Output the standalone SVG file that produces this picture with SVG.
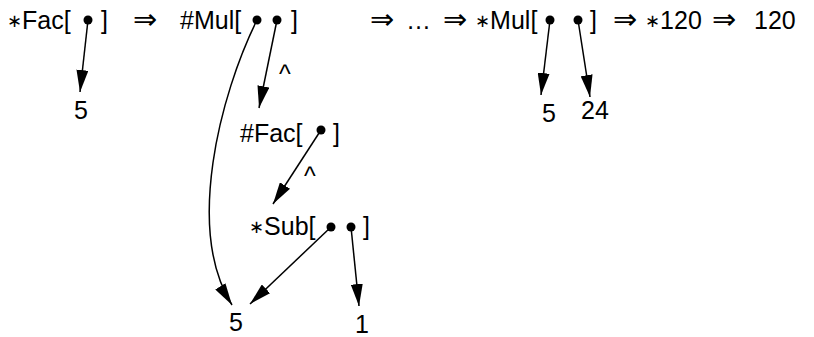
<svg xmlns="http://www.w3.org/2000/svg" width="814" height="337" viewBox="0 0 814 337">
<style>
text{font-family:"Liberation Sans","DejaVu Sans",sans-serif;font-size:25px;fill:#000}
tspan.s{font-family:"DejaVu Sans","Liberation Sans",sans-serif;font-size:18px}
text.a{font-family:"DejaVu Sans","Liberation Sans",sans-serif;font-size:29px}
.c{stroke:#000;stroke-width:1.5;fill:none;marker-end:url(#ah)}
.d{fill:#000}
</style>
<defs>
<marker id="ah" viewBox="0 0 22 12" refX="22" refY="6" markerWidth="22" markerHeight="12" markerUnits="userSpaceOnUse" orient="auto">
<path d="M0,0 L22,6 L0,12 z" fill="#000"/>
</marker>
</defs>
<rect width="814" height="337" fill="#fff"/>
<g id="fac1"><text x="7" y="29"><tspan class="s" dy="-2">∗</tspan><tspan dy="2">Fac[</tspan></text><text x="101" y="29">]</text><circle class="d" cx="88" cy="20" r="4.5"/></g>
<g id="imp1"><text class="a" x="133" y="29">⇒</text></g>
<g id="mul1"><text x="180" y="29">#Mul[</text><text x="291" y="29">]</text><circle class="d" cx="257" cy="20" r="4.5"/><circle class="d" cx="277" cy="20" r="4.5"/></g>
<g id="imp2"><text class="a" x="370" y="29">⇒</text></g>
<g id="ellipsis"><text x="406" y="29">…</text></g>
<g id="imp3"><text class="a" x="443" y="29">⇒</text></g>
<g id="mul2"><text x="475" y="29"><tspan class="s" dy="-2">∗</tspan><tspan dy="2">Mul[</tspan></text><text x="590" y="29">]</text><circle class="d" cx="550" cy="20" r="4.5"/><circle class="d" cx="578" cy="20" r="4.5"/></g>
<g id="imp4"><text class="a" x="613" y="29">⇒</text></g>
<g id="v120a"><text x="645" y="29"><tspan class="s" dy="-2">∗</tspan><tspan dy="2">120</tspan></text></g>
<g id="imp5"><text class="a" x="712" y="29">⇒</text></g>
<g id="v120b"><text x="754" y="29">120</text></g>
<g id="five1"><text x="74" y="119">5</text></g>
<g id="caret1"><text x="279" y="83">^</text></g>
<g id="fac2"><text x="240" y="142">#Fac[</text><text x="333" y="142">]</text><circle class="d" cx="321" cy="130" r="4.5"/></g>
<g id="caret2"><text x="304" y="185">^</text></g>
<g id="sub"><text x="249" y="235"><tspan class="s" dy="-2">∗</tspan><tspan dy="2">Sub[</tspan></text><text x="363" y="235">]</text><circle class="d" cx="331" cy="227" r="4.5"/><circle class="d" cx="351" cy="227" r="4.5"/></g>
<g id="five2"><text x="542" y="122">5</text></g>
<g id="n24"><text x="581" y="119">24</text></g>
<g id="five3"><text x="229" y="331">5</text></g>
<g id="one"><text x="355" y="333">1</text></g>
<g id="connectors">
<line class="c" x1="88" y1="20" x2="80" y2="92"/>
<line class="c" x1="277" y1="20" x2="259" y2="108"/>
<path class="c" d="M257,20 C220,95 185,230 232,305"/>
<line class="c" x1="321" y1="130" x2="273" y2="204"/>
<line class="c" x1="331" y1="227" x2="250" y2="304"/>
<line class="c" x1="351" y1="227" x2="359" y2="306"/>
<line class="c" x1="550" y1="20" x2="541" y2="95"/>
<line class="c" x1="578" y1="20" x2="590" y2="97"/>
</g>
</svg>
